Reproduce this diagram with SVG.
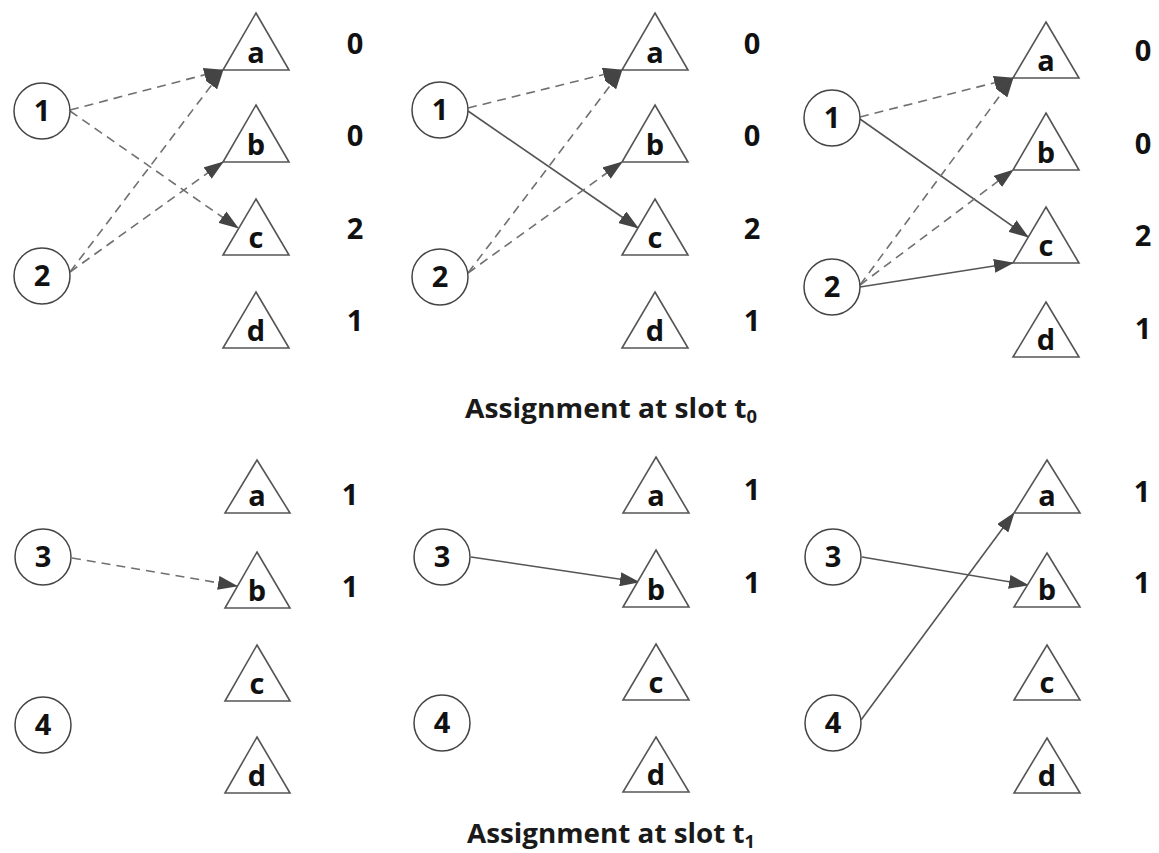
<svg xmlns="http://www.w3.org/2000/svg" width="1159" height="853" viewBox="0 0 1159 853">
<style>
.bg{fill:#fff}
.cir{fill:#fff;stroke:#444;stroke-width:1.5}
.tri{fill:#fff;stroke:#555;stroke-width:1.6}
.lbl{font-family:"Open Sans",Lato,sans-serif;font-weight:bold;font-size:29px;fill:#111;text-anchor:middle}
.num{font-family:"Open Sans",Lato,sans-serif;font-weight:bold;font-size:29px;fill:#111;text-anchor:middle}
.cap{font-family:"Open Sans",Lato,sans-serif;font-weight:bold;font-size:26px;fill:#1a1a1a}
.sub{font-size:17px}
.dash{fill:none;stroke:#707070;stroke-width:1.6;stroke-dasharray:9 6;marker-end:url(#ah)}
.solid{fill:none;stroke:#555;stroke-width:1.6;marker-end:url(#ah)}
</style>
<defs>
<marker id="ah" markerUnits="userSpaceOnUse" markerWidth="20" markerHeight="14" viewBox="0 0 20 14" refX="19" refY="7" orient="auto">
<path d="M0,0 L20,7 L0,14 z" fill="#444"/>
</marker>
</defs>
<rect class="bg" x="0" y="0" width="1159" height="853"/>

<g id="connectors">
<line class="dash" x1="70" y1="110" x2="223" y2="70"/>
<line class="dash" x1="70" y1="111" x2="238" y2="228"/>
<line class="dash" x1="70" y1="272" x2="223" y2="70"/>
<line class="dash" x1="70" y1="272" x2="223" y2="162"/>
<line class="dash" x1="468" y1="108" x2="622" y2="70"/>
<line class="solid" x1="468" y1="111" x2="638" y2="228"/>
<line class="dash" x1="468" y1="273" x2="622" y2="70"/>
<line class="dash" x1="468" y1="273" x2="622" y2="162"/>
<line class="dash" x1="860" y1="117" x2="1013" y2="78"/>
<line class="solid" x1="860" y1="119" x2="1028" y2="237"/>
<line class="dash" x1="860" y1="285" x2="1013" y2="78"/>
<line class="dash" x1="860" y1="285" x2="1013" y2="170"/>
<line class="solid" x1="860" y1="287" x2="1013" y2="263"/>
<line class="dash" x1="72" y1="558" x2="237" y2="586"/>
<line class="solid" x1="471" y1="557" x2="639" y2="582"/>
<line class="solid" x1="862" y1="557" x2="1028" y2="585"/>
<line class="solid" x1="861" y1="720" x2="1014" y2="513"/>
</g>

<g id="p1-n1"><circle class="cir" cx="42" cy="111" r="28"/><text class="lbl" x="42" y="121">1</text></g>
<g id="p1-n2"><circle class="cir" cx="42" cy="276" r="28"/><text class="lbl" x="42" y="286">2</text></g>
<g id="p1-a"><polygon class="tri" points="256,13 289,70 223,70"/><text class="lbl" x="256" y="63">a</text></g>
<g id="p1-b"><polygon class="tri" points="256,105 289,162 223,162"/><text class="lbl" x="256" y="155">b</text></g>
<g id="p1-c"><polygon class="tri" points="256,199 289,255 223,255"/><text class="lbl" x="256" y="248">c</text></g>
<g id="p1-d"><polygon class="tri" points="256,292 289,348 223,348"/><text class="lbl" x="256" y="341">d</text></g>
<g id="p1-nums">
<text class="num" x="355" y="54">0</text>
<text class="num" x="355" y="146">0</text>
<text class="num" x="355" y="239">2</text>
<text class="num" x="355" y="331">1</text>
</g>

<g id="p2-n1"><circle class="cir" cx="440" cy="110" r="28"/><text class="lbl" x="440" y="120">1</text></g>
<g id="p2-n2"><circle class="cir" cx="440" cy="277" r="28"/><text class="lbl" x="440" y="287">2</text></g>
<g id="p2-a"><polygon class="tri" points="655,13 688,70 622,70"/><text class="lbl" x="655" y="63">a</text></g>
<g id="p2-b"><polygon class="tri" points="655,105 688,162 622,162"/><text class="lbl" x="655" y="155">b</text></g>
<g id="p2-c"><polygon class="tri" points="655,199 688,255 622,255"/><text class="lbl" x="655" y="248">c</text></g>
<g id="p2-d"><polygon class="tri" points="655,292 688,348 622,348"/><text class="lbl" x="655" y="341">d</text></g>
<g id="p2-nums">
<text class="num" x="752" y="54">0</text>
<text class="num" x="752" y="146">0</text>
<text class="num" x="752" y="239">2</text>
<text class="num" x="752" y="331">1</text>
</g>

<g id="p3-n1"><circle class="cir" cx="832" cy="118" r="28"/><text class="lbl" x="832" y="128">1</text></g>
<g id="p3-n2"><circle class="cir" cx="832" cy="287" r="28"/><text class="lbl" x="832" y="297">2</text></g>
<g id="p3-a"><polygon class="tri" points="1046,22 1079,78 1013,78"/><text class="lbl" x="1046" y="71">a</text></g>
<g id="p3-b"><polygon class="tri" points="1046,113 1079,170 1013,170"/><text class="lbl" x="1046" y="163">b</text></g>
<g id="p3-c"><polygon class="tri" points="1046,207 1079,263 1013,263"/><text class="lbl" x="1046" y="256">c</text></g>
<g id="p3-d"><polygon class="tri" points="1046,302 1079,357 1013,357"/><text class="lbl" x="1046" y="350">d</text></g>
<g id="p3-nums">
<text class="num" x="1143" y="61">0</text>
<text class="num" x="1143" y="154">0</text>
<text class="num" x="1143" y="246">2</text>
<text class="num" x="1143" y="339">1</text>
</g>

<g id="caption-t0"><text class="cap" x="465" y="418" textLength="292" lengthAdjust="spacingAndGlyphs">Assignment at slot t<tspan class="sub" dy="5">0</tspan></text></g>

<g id="p4-n3"><circle class="cir" cx="43" cy="557" r="28"/><text class="lbl" x="43" y="567">3</text></g>
<g id="p4-n4"><circle class="cir" cx="43" cy="725" r="28"/><text class="lbl" x="43" y="735">4</text></g>
<g id="p4-a"><polygon class="tri" points="257,460 290,513 225,513"/><text class="lbl" x="257" y="506">a</text></g>
<g id="p4-b"><polygon class="tri" points="257,552 290,608 225,608"/><text class="lbl" x="257" y="601">b</text></g>
<g id="p4-c"><polygon class="tri" points="257,645 290,701 225,701"/><text class="lbl" x="257" y="694">c</text></g>
<g id="p4-d"><polygon class="tri" points="257,737 290,793 225,793"/><text class="lbl" x="257" y="786">d</text></g>
<g id="p4-nums">
<text class="num" x="350" y="505">1</text>
<text class="num" x="350" y="597">1</text>
</g>

<g id="p5-n3"><circle class="cir" cx="442" cy="557" r="28"/><text class="lbl" x="442" y="567">3</text></g>
<g id="p5-n4"><circle class="cir" cx="442" cy="723" r="28"/><text class="lbl" x="442" y="733">4</text></g>
<g id="p5-a"><polygon class="tri" points="656,457 689,513 623,513"/><text class="lbl" x="656" y="506">a</text></g>
<g id="p5-b"><polygon class="tri" points="656,550 689,607 623,607"/><text class="lbl" x="656" y="600">b</text></g>
<g id="p5-c"><polygon class="tri" points="656,644 689,700 623,700"/><text class="lbl" x="656" y="693">c</text></g>
<g id="p5-d"><polygon class="tri" points="656,737 689,792 623,792"/><text class="lbl" x="656" y="785">d</text></g>
<g id="p5-nums">
<text class="num" x="752" y="500">1</text>
<text class="num" x="752" y="593">1</text>
</g>

<g id="p6-n3"><circle class="cir" cx="833" cy="557" r="28"/><text class="lbl" x="833" y="567">3</text></g>
<g id="p6-n4"><circle class="cir" cx="833" cy="723" r="28"/><text class="lbl" x="833" y="733">4</text></g>
<g id="p6-a"><polygon class="tri" points="1047,460 1080,513 1014,513"/><text class="lbl" x="1047" y="506">a</text></g>
<g id="p6-b"><polygon class="tri" points="1047,553 1080,607 1014,607"/><text class="lbl" x="1047" y="600">b</text></g>
<g id="p6-c"><polygon class="tri" points="1047,645 1080,700 1014,700"/><text class="lbl" x="1047" y="693">c</text></g>
<g id="p6-d"><polygon class="tri" points="1047,738 1080,793 1014,793"/><text class="lbl" x="1047" y="786">d</text></g>
<g id="p6-nums">
<text class="num" x="1142" y="502">1</text>
<text class="num" x="1142" y="593">1</text>
</g>

<g id="caption-t1"><text class="cap" x="467" y="843" textLength="288" lengthAdjust="spacingAndGlyphs">Assignment at slot t<tspan class="sub" dy="5">1</tspan></text></g>
</svg>
